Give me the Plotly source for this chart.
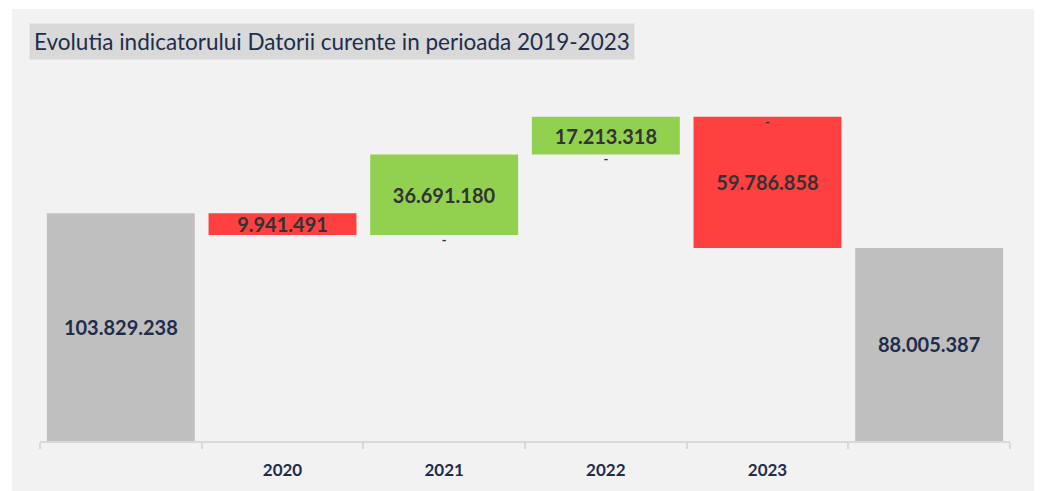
import plotly.graph_objects as go

# ---- data ----
categories = ["2019", "2020", "2021", "2022", "2023", "Total"]
tick_labels = ["", "2020", "2021", "2022", "2023", ""]
measures = ["absolute", "relative", "relative", "relative", "relative", "total"]
values = [103829238, -9941491, 36691180, 17213318, -59786858, 88005387]
title_text = "Evolutia indicatorului Datorii curente in perioada 2019-2023"

# ---- derived ----
def fmt(v):
    return f"{abs(v):,}".replace(",", ".")

labels = [fmt(v) for v in values]
label_colors = ["#1f2d4d", "#333333", "#333333", "#333333", "#333333", "#1f2d4d"]

# previous cumulative levels for the small "-" markers
levels = []
run = 0
for m, v in zip(measures, values):
    if m == "absolute":
        run = v
    elif m == "relative":
        levels.append(run)
        run += v
dash_x = categories[1:5]
dash_y = levels

# page has an 8px body margin; figure is sized/positioned to compensate
OFF = 8
W, H = 1042 - OFF, 491 - OFF
L, R, T, B = 40 - OFF, 32, 90 - OFF, 50
plot_w = W - L - R
plot_h = H - T - B

def px_x(x):  # x in reference-page pixels
    return (x - OFF - L) / plot_w

def px_y(y):
    return (H - B - (y - OFF)) / plot_h

fig = go.Figure()
fig.add_trace(go.Waterfall(
    x=categories,
    y=values,
    measure=measures,
    text=labels,
    textposition="inside",
    textangle=0,
    constraintext="none",
    insidetextanchor="middle",
    textfont=dict(family="Lato", size=20, color=label_colors, weight="bold"),
    increasing=dict(marker=dict(color="#92d050")),
    decreasing=dict(marker=dict(color="#ff4040")),
    totals=dict(marker=dict(color="#bfbfbf")),
    connector=dict(visible=False),
    hoverinfo="skip",
    showlegend=False,
))
fig.add_trace(go.Scatter(
    x=dash_x,
    y=dash_y,
    mode="text",
    text=["-"] * len(dash_x),
    textposition="bottom center",
    textfont=dict(family="Lato", size=13, color="#333333", weight="bold"),
    hoverinfo="skip",
    showlegend=False,
))

fig.add_shape(type="rect", xref="paper", yref="paper",
              x0=px_x(12), x1=px_x(1045), y0=px_y(495), y1=px_y(9),
              fillcolor="#f2f2f2", line=dict(width=0), layer="below")

fig.add_annotation(
    text=title_text, xref="paper", yref="paper",
    x=px_x(29), y=px_y(23), xanchor="left", yanchor="top",
    showarrow=False, bgcolor="#d9d9d9", borderpad=4,
    font=dict(family="Lato", size=22.5, color="#1f2d4d"),
)

fig.update_layout(
    width=W, height=H,
    margin=dict(l=L, r=R, t=T, b=B),
    paper_bgcolor="white",
    plot_bgcolor="rgba(0,0,0,0)",
    waterfallgap=0.085,
    xaxis=dict(
        tickmode="array", tickvals=categories, ticktext=tick_labels,
        tickson="boundaries", ticks="outside", ticklen=6, tickcolor="#d9d9d9",
        tickwidth=2, showline=True, linecolor="#d9d9d9", linewidth=2,
        showgrid=False, zeroline=False, ticklabelstandoff=13,
        tickfont=dict(family="Lato", size=17, color="#1f2d4d", weight="bold"),
    ),
    yaxis=dict(range=[0, 160e6], visible=False, showgrid=False, zeroline=False),
)

fig.write_html("out.html")
